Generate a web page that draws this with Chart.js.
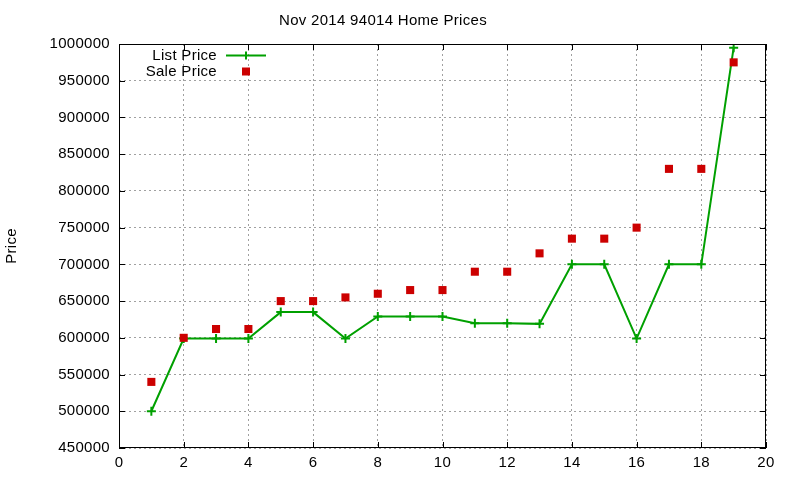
<!DOCTYPE html>
<html>
<head>
<meta charset="utf-8">
<script src="https://cdn.jsdelivr.net/npm/chart.js@4/dist/chart.umd.min.js"></script>
<style>
  html, body { margin: 0; padding: 0; background: #fff; }
  #wrap { width: 800px; height: 480px; }
</style>
</head>
<body>
<div id="wrap"><canvas id="priceChart" width="800" height="480"></canvas></div>
<script>
// Data
const xs = [1, 2, 3, 4, 5, 6, 7, 8, 9, 10, 11, 12, 13, 14, 15, 16, 17, 18, 19];
const listPrice = [500000, 599000, 599000, 599000, 635000, 635000, 599000, 629000, 629000, 629000,
                   620000, 620000, 619000, 700000, 700000, 599000, 700000, 700000, 995000];
const salePrice = [540000, 600000, 612000, 612000, 650000, 650000, 655000, 660000, 665000, 665000,
                   690000, 690000, 715000, 735000, 735000, 750000, 830000, 830000, 975000];

const FONT = '"Liberation Sans", Arial, sans-serif';
const FSIZE = 15;
const GREEN = '#00a000';
const RED = '#cc0000';

// gnuplot's text is a bit wider than Arial at the same height
const wideText = {
    id: 'wideText',
    beforeInit(chart) { chart.ctx.letterSpacing = '0.3px'; },
    beforeDraw(chart) { chart.ctx.letterSpacing = '0.3px'; }
};

// Frame with inward ticks on all four sides, plus the in-plot legend (gnuplot style)
const gnuFrame = {
    id: 'gnuFrame',
    afterDraw(chart) {
        const { ctx, chartArea: a, scales } = chart;
        ctx.save();
        ctx.strokeStyle = '#000';
        ctx.lineWidth = 1;
        ctx.strokeRect(a.left + 0.5, a.top + 0.5, a.right - a.left - 1, a.bottom - a.top - 1);
        ctx.beginPath();
        scales.x.ticks.forEach(t => {
            const px = Math.round(scales.x.getPixelForValue(t.value)) + 0.5;
            ctx.moveTo(px, a.bottom); ctx.lineTo(px, a.bottom - 6);
            ctx.moveTo(px, a.top); ctx.lineTo(px, a.top + 6);
        });
        scales.y.ticks.forEach(t => {
            const py = Math.round(scales.y.getPixelForValue(t.value)) + 0.5;
            ctx.moveTo(a.left, py); ctx.lineTo(a.left + 6, py);
            ctx.moveTo(a.right, py); ctx.lineTo(a.right - 6, py);
        });
        ctx.stroke();

        // legend
        ctx.font = FSIZE + 'px ' + FONT;
        ctx.fillStyle = '#000';
        ctx.textAlign = 'right';
        ctx.textBaseline = 'middle';
        const lx = a.left + 98, row1 = a.top + 11.5, row2 = a.top + 27.5;
        ctx.fillText(chart.data.datasets[0].label, lx, row1);
        ctx.fillText(chart.data.datasets[1].label, lx, row2);
        ctx.strokeStyle = GREEN;
        ctx.lineWidth = 2;
        ctx.beginPath();
        ctx.moveTo(lx + 9, row1); ctx.lineTo(lx + 49, row1);
        ctx.moveTo(lx + 29, row1 - 4); ctx.lineTo(lx + 29, row1 + 4);
        ctx.stroke();
        ctx.fillStyle = RED;
        ctx.fillRect(lx + 25, row2 - 4, 8, 8);
        ctx.restore();
    }
};

const chart = new Chart(document.getElementById('priceChart'), {
    type: 'line',
    data: {
        datasets: [
            {
                label: 'List Price',
                data: xs.map((x, i) => ({ x, y: listPrice[i] })),
                borderColor: GREEN,
                backgroundColor: GREEN,
                borderWidth: 2,
                tension: 0,
                pointStyle: 'cross',
                pointRadius: 4.5,
                pointBorderWidth: 2,
                order: 1
            },
            {
                label: 'Sale Price',
                data: xs.map((x, i) => ({ x, y: salePrice[i] })),
                showLine: false,
                borderColor: RED,
                backgroundColor: RED,
                pointStyle: 'rect',
                pointRadius: 5.7,
                pointBorderWidth: 0,
                order: 0
            }
        ]
    },
    options: {
        responsive: false,
        animation: false,
        layout: { padding: { left: 0, right: 34, top: 0, bottom: 0 } },
        plugins: {
            legend: { display: false },
            tooltip: { enabled: false },
            title: {
                display: true,
                text: 'Nov 2014 94014 Home Prices',
                color: '#000',
                font: { family: FONT, size: FSIZE, weight: 'normal' },
                padding: { top: 12, bottom: 14 }
            }
        },
        scales: {
            x: {
                type: 'linear',
                min: 0, max: 20,
                ticks: { stepSize: 2, color: '#000', padding: 6, font: { family: FONT, size: FSIZE } },
                grid: { color: '#a0a0a0', drawTicks: false },
                border: { display: false, dash: [2, 3] },
                afterFit: s => { s.height = 32; }
            },
            y: {
                min: 450000, max: 1000000,
                ticks: {
                    stepSize: 50000, color: '#000', padding: 9,
                    font: { family: FONT, size: FSIZE },
                    callback: v => String(v)
                },
                grid: { color: '#a0a0a0', drawTicks: false },
                border: { display: false, dash: [2, 3] },
                title: {
                    display: true, text: 'Price', color: '#000',
                    font: { family: FONT, size: FSIZE }, padding: { top: 3, bottom: 0 }
                },
                afterFit: s => { s.width = 119; }
            }
        }
    },
    plugins: [wideText, gnuFrame]
});
</script>
</body>
</html>
